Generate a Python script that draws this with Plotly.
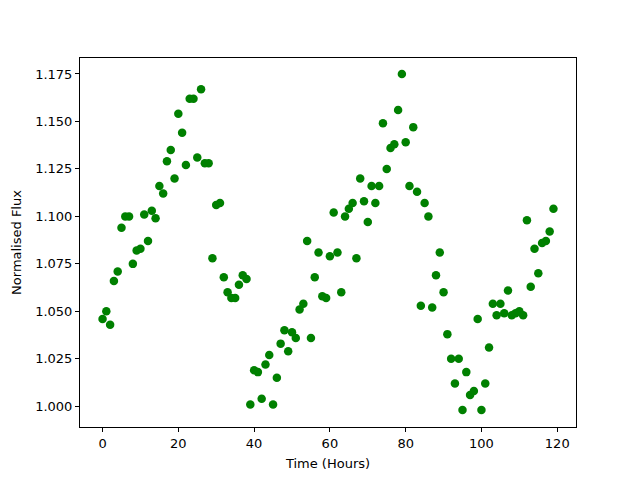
import plotly.graph_objects as go

hours = list(range(120))
flux = [1.046, 1.050, 1.043, 1.066, 1.071, 1.094, 1.100, 1.100, 1.075, 1.082,
        1.083, 1.101, 1.087, 1.103, 1.099, 1.116, 1.112, 1.129, 1.135, 1.120,
        1.154, 1.144, 1.127, 1.162, 1.162, 1.131, 1.167, 1.128, 1.128, 1.078,
        1.106, 1.107, 1.068, 1.060, 1.057, 1.057, 1.064, 1.069, 1.067, 1.001,
        1.019, 1.018, 1.004, 1.022, 1.027, 1.001, 1.015, 1.033, 1.040, 1.029,
        1.039, 1.036, 1.051, 1.054, 1.087, 1.036, 1.068, 1.081, 1.058, 1.057,
        1.079, 1.102, 1.081, 1.060, 1.100, 1.104, 1.107, 1.078, 1.120, 1.108,
        1.097, 1.116, 1.107, 1.116, 1.149, 1.125, 1.136, 1.138, 1.156, 1.175,
        1.139, 1.116, 1.147, 1.113, 1.053, 1.107, 1.100, 1.052, 1.069, 1.081,
        1.060, 1.038, 1.025, 1.012, 1.025, 0.998, 1.018, 1.006, 1.008, 1.046,
        0.998, 1.012, 1.031, 1.054, 1.048, 1.054, 1.049, 1.061, 1.048, 1.049,
        1.050, 1.048, 1.098, 1.063, 1.083, 1.070, 1.086, 1.087, 1.092, 1.104]

fig = go.Figure(go.Scatter(x=hours, y=flux, mode="markers",
                           marker=dict(color="#008000", size=8.5, line=dict(width=0))))

axis_common = dict(showline=True, linecolor="black", linewidth=1, mirror=True,
                   ticks="outside", ticklen=4, tickcolor="black", showgrid=False,
                   zeroline=False, automargin=False,
                   tickfont=dict(family="DejaVu Sans", size=13, color="black"))

fig.update_layout(
    width=640, height=480,
    margin=dict(l=72, r=72, t=50, b=61),
    plot_bgcolor="white", paper_bgcolor="white",
    showlegend=False,
    font=dict(family="DejaVu Sans", size=13, color="black"),
)
fig.update_xaxes(range=[-5.95, 124.95], tick0=0, dtick=20,
                 title=dict(text="Time (Hours)", font=dict(size=13), standoff=9), **axis_common)
fig.update_yaxes(range=[0.9891, 1.1834], tick0=1.0, dtick=0.025, tickformat=".3f",
                 title=dict(text="Normalised Flux", font=dict(size=13), standoff=10), **axis_common)

fig.write_html("out.html")
